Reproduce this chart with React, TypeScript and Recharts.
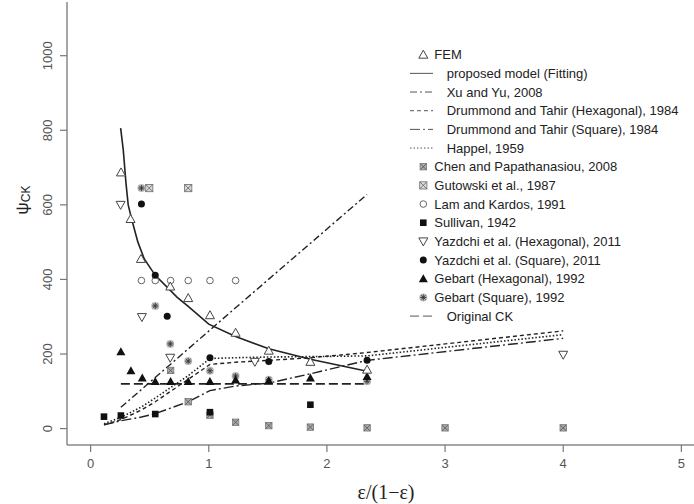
import { ScatterChart, Scatter, XAxis, YAxis, Legend } from 'recharts';

type Pt = [number, number];

const xTicks = [0, 1, 2, 3, 4, 5];
const yTicks = [0, 200, 400, 600, 800, 1000];
// the source image is cropped on the right, just past x = 5.1
const xRange = [-0.2, 5.107];
const yRange = [-44, 1144];

// measured points
const fem: Pt[] = [
  [0.257, 687], [0.338, 562], [0.426, 455], [0.674, 381], [0.826, 350],
  [1.01, 304], [1.227, 257], [1.508, 209], [1.86, 179], [2.34, 158],
];
const chen: Pt[] = [
  [0.677, 156], [0.826, 72], [1.01, 36], [1.227, 17], [1.508, 8],
  [1.86, 4], [2.34, 2], [3.0, 2], [4.0, 2],
];
const gutowski: Pt[] = [[0.496, 645], [0.826, 645]];
const lamKardos: Pt[] = [
  [0.43, 397], [0.547, 397], [0.677, 397], [0.826, 397], [1.01, 397], [1.227, 397],
];
const sullivan: Pt[] = [[0.113, 32], [0.256, 35], [0.547, 39], [1.01, 44], [1.86, 64]];
const yazdchiHex: Pt[] = [[0.254, 600], [0.434, 299], [0.674, 190], [1.39, 179], [4.0, 198]];
const yazdchiSq: Pt[] = [[0.43, 602], [0.547, 411], [0.648, 301], [1.01, 190], [1.508, 180], [2.34, 183]];
const gebartHex: Pt[] = [
  [0.256, 206], [0.341, 155], [0.437, 136], [0.547, 126], [0.677, 126], [0.826, 126],
  [1.01, 126], [1.227, 130], [1.508, 128], [1.86, 136], [2.34, 140],
];
const gebartSq: Pt[] = [
  [0.43, 645], [0.547, 329], [0.674, 227], [0.826, 181], [1.01, 155],
  [1.227, 141], [1.508, 131], [2.34, 127],
];

// model curves
const proposed: Pt[] = [
  [0.254, 806], [0.276, 748], [0.299, 659], [0.318, 600], [0.347, 562], [0.4, 500],
  [0.454, 455], [0.547, 411], [0.733, 352], [0.826, 328], [1.0, 280], [1.227, 247],
  [1.508, 214], [1.86, 186], [2.34, 154],
];
const xuYu: Pt[] = [[0.256, 57], [1.227, 324], [2.34, 628]];
const dtHex: Pt[] = [
  [0.113, 10], [0.256, 24], [0.43, 50], [0.547, 72], [0.677, 100], [0.826, 132],
  [1.01, 172], [1.227, 178], [1.508, 183], [1.86, 190], [2.34, 204], [4.0, 262],
];
const happel: Pt[] = [
  [0.113, 13], [0.256, 30], [0.43, 58], [0.547, 82], [0.677, 110], [0.826, 142],
  [1.01, 188], [1.227, 190], [1.508, 192], [1.86, 193], [2.34, 195], [4.0, 252],
];
const dtSq: Pt[] = [
  [0.113, 10], [0.256, 21], [0.43, 31], [0.547, 40], [0.677, 55], [0.826, 72],
  [1.01, 102], [1.227, 114], [1.508, 122], [1.86, 147], [2.34, 183], [4.0, 242],
];
const originalCK: Pt[] = [[0.256, 120], [2.34, 120]];

const legendNames = [
  'FEM', 'proposed model (Fitting)', 'Xu and Yu, 2008', 'Drummond and Tahir (Hexagonal), 1984',
  'Drummond and Tahir (Square), 1984', 'Happel, 1959', 'Chen and Papathanasiou, 2008',
  'Gutowski et al., 1987', 'Lam and Kardos, 1991', 'Sullivan, 1942',
  'Yazdchi et al. (Hexagonal), 2011', 'Yazdchi et al. (Square), 2011',
  'Gebart (Hexagonal), 1992', 'Gebart (Square), 1992', 'Original CK',
];

const toData = (pts: Pt[]) => pts.map(([x, y]) => ({ x, y }));
const INK = '#222';
const FRAME = '#888';
const SANS = '"Liberation Sans", Arial, sans-serif';

type Mark = 'triUp' | 'triDown' | 'chen' | 'gutowski' | 'circle' | 'dot' | 'square' | 'triFill' | 'star';

function marker(kind: Mark, cx: number, cy: number) {
  switch (kind) {
    case 'triUp':
      return <polygon points={`${cx},${cy - 4.5} ${cx - 4.5},${cy + 3.5} ${cx + 4.5},${cy + 3.5}`} fill="#fff" stroke="#444" strokeWidth={1} />;
    case 'triDown':
      return <polygon points={`${cx},${cy + 4.5} ${cx - 4.5},${cy - 3.5} ${cx + 4.5},${cy - 3.5}`} fill="#fff" stroke="#444" strokeWidth={1} />;
    case 'triFill':
      return <polygon points={`${cx},${cy - 4.5} ${cx - 4.5},${cy + 3.5} ${cx + 4.5},${cy + 3.5}`} fill="#111" />;
    case 'circle':
      return <circle cx={cx} cy={cy} r={3.3} fill="#fff" stroke="#666" strokeWidth={1} />;
    case 'dot':
      return <circle cx={cx} cy={cy} r={3.5} fill="#111" />;
    case 'square':
      return <rect x={cx - 3.3} y={cy - 3.3} width={6.6} height={6.6} fill="#111" />;
    case 'chen':
      return (
        <g>
          <rect x={cx - 3.2} y={cy - 3.2} width={6.4} height={6.4} fill="#aaa" stroke="#777" strokeWidth={0.8} />
          <path d={`M${cx - 3} ${cy - 3}L${cx + 3} ${cy + 3}M${cx + 3} ${cy - 3}L${cx - 3} ${cy + 3}`} stroke="#555" strokeWidth={0.8} />
        </g>
      );
    case 'gutowski':
      return (
        <g>
          <rect x={cx - 3.6} y={cy - 3.6} width={7.2} height={7.2} fill="#ddd" stroke="#777" strokeWidth={0.9} />
          <path d={`M${cx - 3.4} ${cy - 3.4}L${cx + 3.4} ${cy + 3.4}M${cx + 3.4} ${cy - 3.4}L${cx - 3.4} ${cy + 3.4}`} stroke="#666" strokeWidth={0.9} />
        </g>
      );
    case 'star':
      return (
        <g>
          <circle cx={cx} cy={cy} r={4} fill="#bbb" />
          <path
            d={`M${cx - 3} ${cy}L${cx + 3} ${cy}M${cx} ${cy - 3}L${cx} ${cy + 3}M${cx - 2.2} ${cy - 2.2}L${cx + 2.2} ${cy + 2.2}M${cx + 2.2} ${cy - 2.2}L${cx - 2.2} ${cy + 2.2}`}
            stroke="#333"
            strokeWidth={0.9}
          />
        </g>
      );
  }
}

const shapeOf = (kind: Mark) => (p: any) => marker(kind, p.cx, p.cy);
const noDot = () => <g />;

const dashes: Record<string, string | undefined> = {
  proposed: undefined,
  xuYu: '7 3 2 3',
  dtHex: '4 3',
  dtSq: '10 3 2 3',
  happel: '1.5 2',
  ck: '9 4',
};

const legendKinds: string[] = [
  'triUp', 'proposed', 'xuYu', 'dtHex', 'dtSq', 'happel', 'chen', 'gutowski',
  'circle', 'square', 'triDown', 'dot', 'triFill', 'star', 'ck',
];

function LegendBox() {
  return (
    <svg width={290} height={280} style={{ display: 'block' }}>
      {legendNames.map((name, i) => {
        const y = 9.7 + 18.67 * i;
        const kind = legendKinds[i];
        const isLine = kind in dashes;
        return (
          <g key={name}>
            {isLine ? (
              <line x1={10} x2={33} y1={y} y2={y} stroke="#555" strokeWidth={1} strokeDasharray={dashes[kind]} />
            ) : (
              marker(kind as Mark, 23.3, y)
            )}
            <text x={isLine ? 46.7 : 34.3} y={y} dominantBaseline="central" fontSize={13} fontFamily={SANS} fill={INK}>
              {name}
            </text>
          </g>
        );
      })}
    </svg>
  );
}

const YTick = ({ x, y, payload }: any) => (
  <text x={x} y={y} transform={`rotate(-90 ${x} ${y})`} textAnchor="middle" dominantBaseline="central" fontSize={13} fontFamily={SANS} fill="#555">
    {payload.value}
  </text>
);

const XTick = ({ x, y, payload }: any) => (
  <text x={x} y={y + 5} textAnchor="middle" dominantBaseline="central" fontSize={13} fontFamily={SANS} fill="#555">
    {payload.value}
  </text>
);

const YTitle = () => (
  <text x={22} y={200} transform="rotate(-90 22 200)" textAnchor="middle" dominantBaseline="central" fontFamily={SANS} fill={INK}>
    <tspan fontSize={17}>ψ</tspan>
    <tspan fontSize={12} dy={4}>CK</tspan>
  </text>
);

const XTitle = () => (
  <text x={386} y={492} textAnchor="middle" dominantBaseline="central" fontFamily='"Liberation Serif", "Times New Roman", serif' fontSize={20} fill={INK}>
    ε/(1−ε)
  </text>
);

export default function App() {
  return (
    <div style={{ position: 'fixed', left: 0, top: 0, width: 694, height: 504, overflow: 'hidden', background: '#fff' }}>
      <ScatterChart width={694} height={504} margin={{ top: 2, right: 0, bottom: 0, left: 0 }}>
        <XAxis
          type="number"
          dataKey="x"
          domain={xRange}
          ticks={xTicks}
          allowDataOverflow
          height={59}
          axisLine={{ stroke: FRAME, strokeWidth: 1.5 }}
          tickSize={7}
          tickMargin={6}
          tickLine={{ stroke: '#777', strokeWidth: 1.2 }}
          tick={<XTick />}
          label={<XTitle />}
        />
        <XAxis
          xAxisId="top"
          orientation="top"
          type="number"
          dataKey="x"
          domain={xRange}
          allowDataOverflow
          height={0}
          axisLine={{ stroke: FRAME, strokeWidth: 1.5 }}
          tick={false}
          tickLine={false}
        />
        <YAxis
          type="number"
          dataKey="y"
          domain={yRange}
          ticks={yTicks}
          allowDataOverflow
          width={67}
          axisLine={{ stroke: FRAME, strokeWidth: 1.5 }}
          tickSize={7}
          tickMargin={12}
          tickLine={{ stroke: '#777', strokeWidth: 1.2 }}
          tick={<YTick />}
          label={<YTitle />}
        />

        <Scatter data={toData(originalCK)} line={{ stroke: INK, strokeWidth: 1.6, strokeDasharray: dashes.ck }} shape={noDot} isAnimationActive={false} />
        <Scatter data={toData(dtSq)} line={{ stroke: INK, strokeWidth: 1.4, strokeDasharray: dashes.dtSq }} shape={noDot} isAnimationActive={false} />
        <Scatter data={toData(happel)} line={{ stroke: INK, strokeWidth: 1.6, strokeDasharray: dashes.happel }} shape={noDot} isAnimationActive={false} />
        <Scatter data={toData(dtHex)} line={{ stroke: INK, strokeWidth: 1.4, strokeDasharray: dashes.dtHex }} shape={noDot} isAnimationActive={false} />
        <Scatter data={toData(xuYu)} line={{ stroke: INK, strokeWidth: 1.4, strokeDasharray: dashes.xuYu }} shape={noDot} isAnimationActive={false} />
        <Scatter data={toData(proposed)} line={{ stroke: INK, strokeWidth: 1.6 }} shape={noDot} isAnimationActive={false} />

        <Scatter data={toData(chen)} shape={shapeOf('chen')} isAnimationActive={false} />
        <Scatter data={toData(gutowski)} shape={shapeOf('gutowski')} isAnimationActive={false} />
        <Scatter data={toData(lamKardos)} shape={shapeOf('circle')} isAnimationActive={false} />
        <Scatter data={toData(sullivan)} shape={shapeOf('square')} isAnimationActive={false} />
        <Scatter data={toData(gebartSq)} shape={shapeOf('star')} isAnimationActive={false} />
        <Scatter data={toData(gebartHex)} shape={shapeOf('triFill')} isAnimationActive={false} />
        <Scatter data={toData(yazdchiHex)} shape={shapeOf('triDown')} isAnimationActive={false} />
        <Scatter data={toData(yazdchiSq)} shape={shapeOf('dot')} isAnimationActive={false} />
        <Scatter data={toData(fem)} shape={shapeOf('triUp')} isAnimationActive={false} />

        <Legend
          layout="vertical"
          align="center"
          verticalAlign="middle"
          wrapperStyle={{ left: 400, top: 45, width: 290 }}
          content={() => <LegendBox />}
        />
      </ScatterChart>
    </div>
  );
}
